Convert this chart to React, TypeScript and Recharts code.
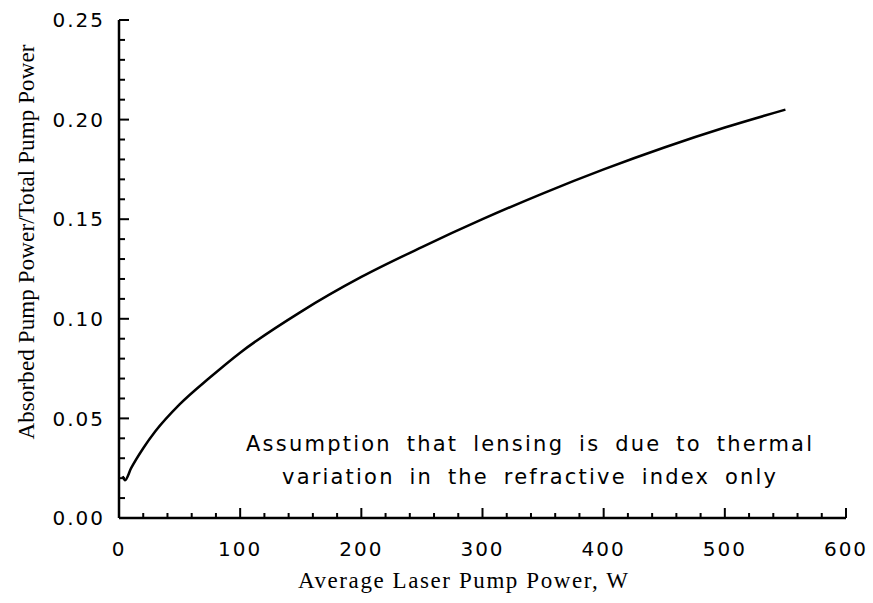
import { LineChart, Line, XAxis, YAxis } from "recharts"

// pump power (W) and absorbed/total ratio
const pumpPower = [3, 5, 10, 20, 30, 50, 75, 100, 150, 200, 250, 300, 350, 400, 450, 500, 550]
const absorbedRatio = [0.021, 0.019, 0.025, 0.035, 0.0435, 0.057, 0.0705, 0.083, 0.1035, 0.121, 0.136, 0.150, 0.163, 0.175, 0.186, 0.196, 0.205]

const xMajorTicks = [0, 100, 200, 300, 400, 500, 600]
// minor ticks every 20 W and every 0.01
const xAllTicks = Array.from({ length: 31 }, (_, i) => i * 20)
const yAllTicks = Array.from({ length: 26 }, (_, i) => i / 100)

const noteLines = [
  "Assumption that lensing is due to thermal",
  "variation in the refractive index only",
]

const data = pumpPower.map((p, i) => ({ power: p, ratio: absorbedRatio[i] }))

const tickFont = "'DejaVu Sans', sans-serif"
const labelFont = "'Liberation Serif', 'Times New Roman', serif"

function XTick(props: any) {
  const { x, y, payload } = props
  const major = xMajorTicks.includes(payload.value)
  return (
    <g>
      <line x1={x} x2={x} y1={y} y2={y - (major ? 10 : 5)} stroke="#000" strokeWidth={2} />
      {major && (
        <text x={x} y={y + 38} textAnchor="middle" fontFamily={tickFont} fontSize={20} style={{ letterSpacing: "2px" }} fill="#000">
          {payload.value}
        </text>
      )}
    </g>
  )
}

function YTick(props: any) {
  const { x, y, payload } = props
  const major = Math.round(payload.value * 100) % 5 === 0
  return (
    <g>
      <line x1={x} x2={x + (major ? 10 : 6)} y1={y} y2={y} stroke="#000" strokeWidth={2} />
      {major && (
        <text x={x - 14} y={y} dy="0.36em" textAnchor="end" fontFamily={tickFont} fontSize={20} style={{ letterSpacing: "2px" }} fill="#000">
          {payload.value.toFixed(2)}
        </text>
      )}
    </g>
  )
}

export default function App() {
  return (
    <div style={{ position: "absolute", left: 0, top: 0, width: 873, height: 603, background: "#fff" }}>
      <LineChart width={873} height={603} data={data} margin={{ top: 20, right: 27, bottom: 0, left: 0 }}>
        <XAxis
          dataKey="power"
          type="number"
          domain={[0, 600]}
          ticks={xAllTicks}
          interval={0}
          tickSize={0}
          tickMargin={0}
          tickLine={false}
          tick={(p: any) => <XTick {...p} />}
          height={85}
          axisLine={{ stroke: "#000", strokeWidth: 2.5 }}
          label={{
            content: () => (
              <text x={298} y={588} textLength={330} lengthAdjust="spacing" fontFamily={labelFont} fontSize={23} fill="#000">
                Average Laser Pump Power, W
              </text>
            ),
          }}
        />
        <XAxis xAxisId="top" orientation="top" type="number" domain={[0, 600]} height={0} tick={false} tickLine={false} axisLine={{ stroke: "#000", strokeWidth: 2.5 }} />
        <YAxis
          type="number"
          domain={[0, 0.25]}
          ticks={yAllTicks}
          interval={0}
          tickSize={0}
          tickMargin={0}
          tickLine={false}
          tick={(p: any) => <YTick {...p} />}
          width={119}
          axisLine={{ stroke: "#000", strokeWidth: 2.5 }}
          label={{
            content: () => (
              <text
                x={26}
                y={242}
                transform="rotate(-90, 26, 242)"
                textAnchor="middle"
                dominantBaseline="central"
                textLength={395}
                lengthAdjust="spacing"
                fontFamily={labelFont}
                fontSize={23}
                fill="#000"
              >
                Absorbed Pump Power/Total Pump Power
              </text>
            ),
          }}
        />
        <YAxis yAxisId="right" orientation="right" type="number" domain={[0, 0.25]} width={0} tick={false} tickLine={false} axisLine={{ stroke: "#000", strokeWidth: 2.5 }} />
        <Line
          type="monotone"
          dataKey="ratio"
          stroke="#000"
          strokeWidth={2.5}
          dot={false}
          isAnimationActive={false}
        />
      </LineChart>
      <svg width={873} height={603} style={{ position: "absolute", left: 0, top: 0, pointerEvents: "none" }}>
        <text x={246} y={451} textLength={567} lengthAdjust="spacing" style={{ wordSpacing: "6px", letterSpacing: "1px" }} fontFamily={tickFont} fontSize={21} fill="#000">
          {noteLines[0]}
        </text>
        <text x={282} y={484} textLength={495} lengthAdjust="spacing" style={{ wordSpacing: "6px", letterSpacing: "1px" }} fontFamily={tickFont} fontSize={21} fill="#000">
          {noteLines[1]}
        </text>
      </svg>
    </div>
  )
}
